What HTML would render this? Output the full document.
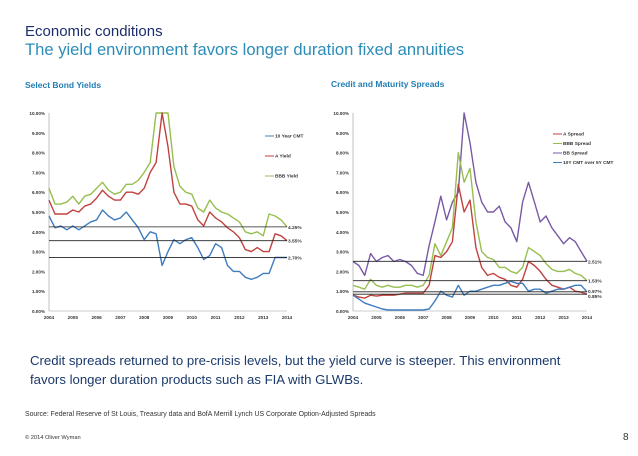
<!DOCTYPE html>
<html><head><meta charset="utf-8">
<style>
body{margin:0;width:638px;height:456px;background:#fff;font-family:"Liberation Sans",sans-serif;overflow:hidden;position:relative}
.t{position:absolute;white-space:nowrap}
</style></head><body>
<div class="t" style="left:25px;top:23px;font-size:15px;color:#1b2d6b">Economic conditions</div>
<div class="t" style="left:25px;top:40px;font-size:16.6px;color:#2b8db8">The yield environment favors longer duration fixed annuities</div>
<div class="t" style="left:25px;top:80px;font-size:8.5px;font-weight:bold;color:#1f7db4">Select Bond Yields</div>
<div class="t" style="left:331px;top:79px;font-size:8.5px;font-weight:bold;color:#1f7db4">Credit and Maturity Spreads</div>
<svg id="chart" width="638" height="340" style="position:absolute;left:0;top:0" font-family="Liberation Sans, sans-serif"></svg>
<div class="t" style="left:30px;top:351px;font-size:13.2px;line-height:19px;color:#1b3a6b">Credit spreads returned to pre-crisis levels, but the yield curve is steeper. This environment<br>favors longer duration products such as FIA with GLWBs.</div>
<div class="t" style="left:25px;top:411px;font-size:6.9px;color:#333">Source: Federal Reserve of St Louis, Treasury data and BofA Merrill Lynch US Corporate Option-Adjusted Spreads</div>
<div class="t" style="left:25px;top:435px;font-size:5.7px;color:#333">© 2014 Oliver Wyman</div>
<div class="t" style="left:623px;top:432px;font-size:10px;color:#333">8</div>
<script>
const years=["2004","2005","2006","2007","2008","2009","2010","2011","2012","2013","2014"];
const yTicks=[0,1,2,3,4,5,6,7,8,9,10];
const cmt10=[4.8,4.2,4.3,4.1,4.3,4.1,4.3,4.5,4.6,5.1,4.8,4.6,4.7,5.0,4.6,4.2,3.6,4.0,3.9,2.3,3.0,3.6,3.4,3.6,3.7,3.2,2.6,2.8,3.4,3.2,2.3,2.0,2.0,1.7,1.6,1.7,1.9,1.9,2.7,2.7,2.7];
const aYield=[5.6,4.9,4.9,4.9,5.1,5.0,5.3,5.4,5.7,6.1,5.8,5.6,5.6,6.0,6.0,5.9,6.2,7.0,7.5,10.0,8.3,6.0,5.4,5.4,5.3,4.6,4.3,5.0,4.7,4.5,4.2,4.0,3.7,3.1,3.0,3.2,3.0,3.0,3.9,3.8,3.55];
const bbbYield=[6.2,5.4,5.4,5.5,5.8,5.4,5.8,5.9,6.2,6.5,6.1,5.9,6.0,6.4,6.4,6.6,7.0,7.5,10.0,10.0,10.0,7.3,6.3,6.0,5.9,5.2,5.0,5.6,5.2,5.0,4.9,4.7,4.5,4.0,3.9,4.0,3.8,4.9,4.8,4.6,4.25];
const leftRefs=[4.25,3.55,2.70];
const aSpread=[0.8,0.7,0.65,0.8,0.75,0.8,0.8,0.8,0.85,0.9,0.9,0.9,0.9,1.3,2.8,2.7,3.0,3.5,6.4,5.0,5.6,3.2,2.2,1.8,1.9,1.7,1.6,1.3,1.2,1.6,2.5,2.3,2.0,1.6,1.3,1.2,1.1,1.2,1.0,0.95,0.85];
const bbbSpread=[1.3,1.2,1.1,1.6,1.3,1.2,1.3,1.2,1.2,1.3,1.3,1.2,1.3,1.8,3.4,2.8,3.5,4.2,8.0,6.5,7.2,4.5,3.0,2.7,2.6,2.2,2.2,2.0,1.9,2.2,3.2,3.0,2.8,2.4,2.1,2.0,2.0,2.1,1.9,1.8,1.53];
const bbSpread=[2.5,2.3,1.8,2.9,2.5,2.7,2.8,2.5,2.6,2.5,2.3,1.9,1.8,3.3,4.5,5.8,4.6,5.5,6.0,10.0,8.5,6.5,5.5,5.0,5.0,5.3,4.5,4.2,3.5,5.5,6.5,5.5,4.5,4.8,4.2,3.8,3.4,3.7,3.5,3.0,2.51];
const curve105=[0.8,0.6,0.4,0.3,0.2,0.1,0.05,0.05,0.05,0.05,0.05,0.05,0.05,0.1,0.5,1.0,0.8,0.7,1.3,0.8,1.0,1.0,1.1,1.2,1.3,1.3,1.4,1.5,1.4,1.4,1.0,1.1,1.1,0.9,1.0,1.1,1.1,1.2,1.3,1.3,0.97];
const rightRefs=[2.51,1.53,0.97,0.85];
const rightRefLabels=["2.51%","1.53%","0.97%","0.85%"];

const NS="http://www.w3.org/2000/svg";
const svg=document.getElementById('chart');
function el(t,a,p){const e=document.createElementNS(NS,t);for(const k in a)e.setAttribute(k,a[k]);(p||svg).appendChild(e);return e;}
function drawChart(name,x0,x1,series,refs,refLabels,legend,lx,ly,lstep){
  const top=113,bot=311;
  const X=t=>x0+(x1-x0)*t/10;
  const Y=v=>bot-(bot-top)*Math.min(v,10)/10;
  const g=el('g',{});
  
  
  const ax=el('path',{d:`M${x0} ${top}V${bot}H${x1}`,stroke:'#999',fill:'none','stroke-width':0.6},g);
  
  
  yTicks.forEach(v=>{const t=el('text',{x:x0-4,y:Y(v)+2,'font-size':4.6,'font-weight':'bold','text-anchor':'end',fill:'#333'},g);t.textContent=v.toFixed(2)+'%';
    
    });
  years.forEach((y,i)=>{const t=el('text',{x:X(i),y:bot+8,'font-size':4.6,'font-weight':'bold','text-anchor':'middle',fill:'#333'},g);t.textContent=y;
    
    });
  series.forEach(s=>{
    const d=s.data.map((v,i)=>(i?'L':'M')+X(i/4).toFixed(1)+' '+Y(v).toFixed(1)).join('');
    const p=el('path',{d:d,stroke:s.c,fill:'none','stroke-width':1.4,'stroke-linejoin':'round'},g);
    
    
  });
  refs.forEach((v,i)=>{
    const l=el('line',{x1:x0,x2:x1,y1:Y(v),y2:Y(v),stroke:'#222','stroke-width':0.8},g);
    
    
    const t=el('text',{x:x1+1,y:Y(v)+2+(i==3?2:(i==2&&refs.length==4?-1:0)),'font-size':4.8,'font-weight':'bold',fill:'#333'},g);t.textContent=refLabels[i];
    
    
  });
  legend.forEach((s,i)=>{
    const y=ly+i*lstep;
    const l=el('line',{x1:lx,x2:lx+9,y1:y,y2:y,stroke:s.c,'stroke-width':1},g);
    
    
    const t=el('text',{x:lx+10,y:y+1.6,'font-size':4.8,'font-weight':'bold',fill:'#333'},g);t.textContent=s.label;
    
    
  });
}
const blue='#3f7cc0',red='#c0423f',green='#96bf4f',purple='#7a5aa6';
drawChart('left-chart',49,287,
 [{n:'bbb-yield-line',data:bbbYield,c:green},{n:'a-yield-line',data:aYield,c:red},{n:'cmt10-line',data:cmt10,c:blue}],
 leftRefs,leftRefs.map(v=>v.toFixed(2)+'%'),
 [{label:'10 Year CMT',c:blue},{label:'A Yield',c:red},{label:'BBB Yield',c:green}],265,136,20);
drawChart('right-chart',353,587,
 [{n:'bb-spread-line',data:bbSpread,c:purple},{n:'bbb-spread-line',data:bbbSpread,c:green},{n:'a-spread-line',data:aSpread,c:red},{n:'curve-10y-5y-line',data:curve105,c:blue}],
 rightRefs,rightRefLabels,
 [{label:'A Spread',c:red},{label:'BBB Spread',c:green},{label:'BB Spread',c:purple},{label:'10Y CMT over 5Y CMT',c:blue}],553,134,9.5);
</script>
</body></html>
